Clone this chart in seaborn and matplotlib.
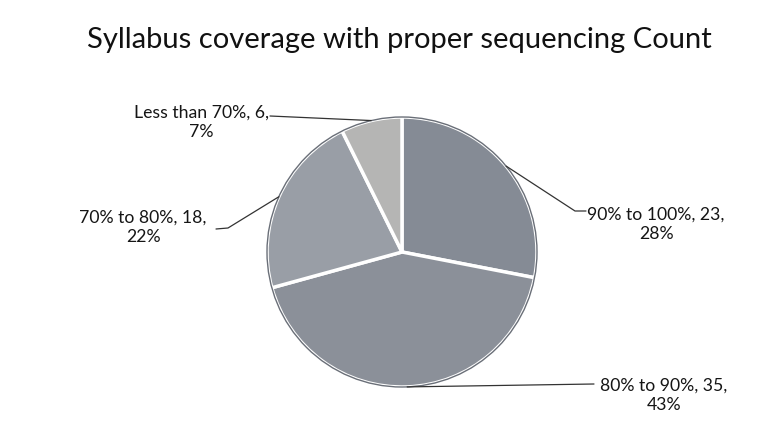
import numpy as np
import matplotlib
matplotlib.use("Agg")
import matplotlib.pyplot as plt
import seaborn as sns

sns.set_theme(style="white")
plt.rcParams['font.family'] = ['Lato', 'DejaVu Sans']

# --- data ---
categories = ["90% to 100%", "80% to 90%", "70% to 80%", "Less than 70%"]
counts = [23, 35, 18, 6]
percents = [28, 43, 22, 7]
colors = ["#858b95", "#8b9099", "#999ea6", "#b5b5b4"]

W, H, DPI = 784, 439, 100
CX, CY, R = 402, 253, 135   # pie centre / radius in pixels


def px(x, y):
    # pixel coords -> data coords (pie radius = 1)
    return (x - CX) / R, (CY - y) / R


fig = plt.figure(figsize=(W / DPI, H / DPI), dpi=DPI)
ax = fig.add_axes([0, 0, 1, 1])

wedges, _ = ax.pie(counts, colors=colors, startangle=90, counterclock=False,
                   radius=1, center=(0, 0),
                   wedgeprops=dict(edgecolor="white", linewidth=2.5))
ax.add_patch(plt.Circle((0, 0), 1.0, fill=False, ec="#6a6f78", lw=1.0, zorder=3))
ax.set_xlim(-CX / R, (W - CX) / R)
ax.set_ylim(-(H - CY) / R, CY / R)
ax.set_aspect("equal")
ax.axis("off")

fig.text(0.51, 1 - 40 / H, "Syllabus coverage with proper sequencing Count",
         ha="center", va="center", fontsize=21, color="#111111")

# label centres and leader elbows (pixels)
label_pos = [(656, 224), (664, 395), (143, 227), (201, 122)]
elbows = [[(575, 212), (586, 212)],
          [(594, 385)],
          [(228, 229), (216, 230)],
          [(270, 117)]]

shares = np.array(counts) / sum(counts)
start = 90 - 360 * np.concatenate([[0], np.cumsum(shares)[:-1]])
mids = start - 360 * shares / 2

for cat, n, p, (lx, ly), elb, mid in zip(categories, counts, percents,
                                         label_pos, elbows, mids):
    a = np.deg2rad(mid)
    pts = [(1.0 * np.cos(a), 1.0 * np.sin(a))] + [px(*e) for e in elb]
    xs, ys = zip(*pts)
    ax.plot(xs, ys, color="#333333", lw=0.9, zorder=4)
    ax.text(*px(lx, ly), f"{cat}, {n},\n{p}%", ha="center", va="center",
            fontsize=12.7, color="#151515", linespacing=1.25,
            multialignment="center")

fig.savefig("out.png", dpi=DPI)
